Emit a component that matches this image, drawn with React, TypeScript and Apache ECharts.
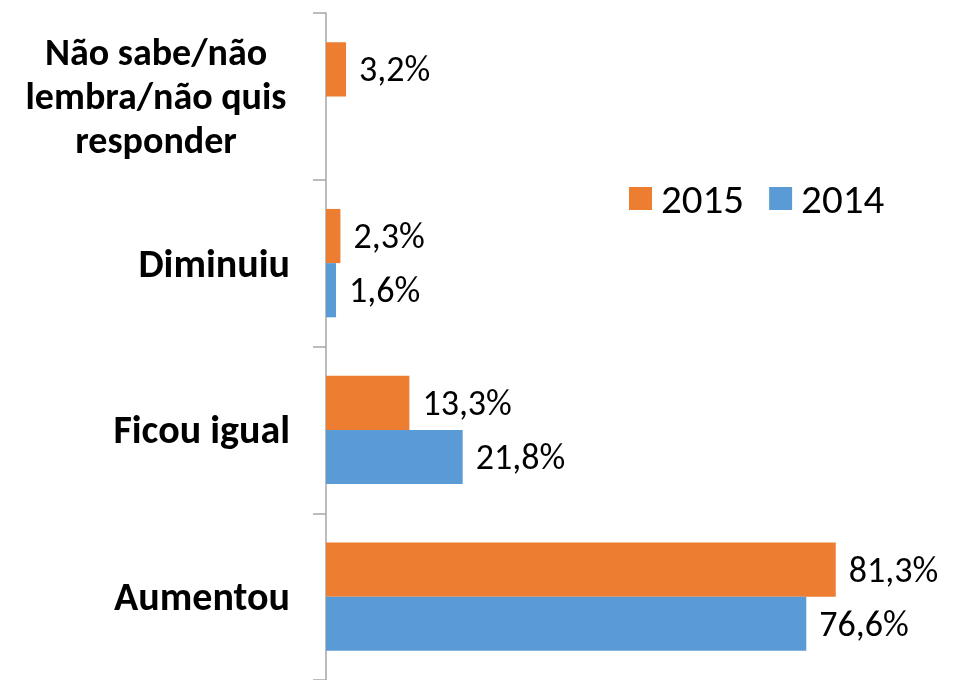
import React, { useEffect, useRef } from "react";
import * as echarts from "echarts";

const categories = ["Aumentou", "Ficou igual", "Diminuiu", "Não sabe/não\nlembra/não quis\nresponder"];
const values2015 = [81.3, 13.3, 2.3, 3.2];
const values2014: (number | null)[] = [76.6, 21.8, 1.6, null];
const seriesNames = ["2015", "2014"];

const FONT = "Carlito, Lato, 'Liberation Sans', sans-serif";

export default function App() {
  const ref = useRef<HTMLDivElement>(null);
  useEffect(() => {
    if (!ref.current) return;
    const chart = echarts.init(ref.current, undefined, { renderer: "svg" });
    const labelFmt = (p: any) => (p.value == null ? "" : p.value.toFixed(1).replace(".", ",") + "%");
    chart.setOption({
      animation: false,
      textStyle: { fontFamily: FONT },
      legend: {
        data: seriesNames,
        left: 624,
        top: 173,
        itemWidth: 23,
        itemHeight: 23,
        itemGap: 25,
        icon: "rect",
        textStyle: { fontSize: 41, color: "#000", fontFamily: FONT, padding: [0, 0, 0, 4] },
      },
      grid: { left: 326, right: 0, top: 13, bottom: -2, containLabel: false },
      xAxis: { type: "value", min: 0, max: 100, show: false },
      yAxis: {
        type: "category",
        data: categories,
        axisLine: { show: true, lineStyle: { color: "#A6A6A6", width: 1.5 } },
        axisTick: { show: true, length: 13, lineStyle: { color: "#A6A6A6", width: 1.5 } },
        axisLabel: {
          margin: 36,
          color: "#000",
          fontSize: 40,
          fontWeight: "bold",
          fontFamily: FONT,
          lineHeight: 44,
          formatter: (v: string) =>
            v.indexOf("\n") >= 0
              ? v.split("\n").map((s) => `{c|${s}}`).join("\n")
              : v,
          rich: {
            c: { width: 268, align: "center", fontSize: 38, fontWeight: "bold", lineHeight: 44, color: "#000", fontFamily: FONT },
          },
        },
      },
      series: [
        {
          name: "2015",
          type: "bar",
          data: values2015,
          barGap: "0%",
          barCategoryGap: "35%",
          itemStyle: { color: "#ED7D31" },
          label: { show: true, position: "right", distance: 13, fontSize: 36, color: "#000", fontFamily: FONT, formatter: labelFmt },
        },
        {
          name: "2014",
          type: "bar",
          data: values2014,
          barGap: "0%",
          barCategoryGap: "35%",
          itemStyle: { color: "#5B9BD5" },
          label: { show: true, position: "right", distance: 13, fontSize: 36, color: "#000", fontFamily: FONT, formatter: labelFmt },
        },
      ],
    });
    return () => chart.dispose();
  }, []);
  return <div ref={ref} style={{ position: "fixed", left: 0, top: 0, width: 953, height: 680 }} />;
}
